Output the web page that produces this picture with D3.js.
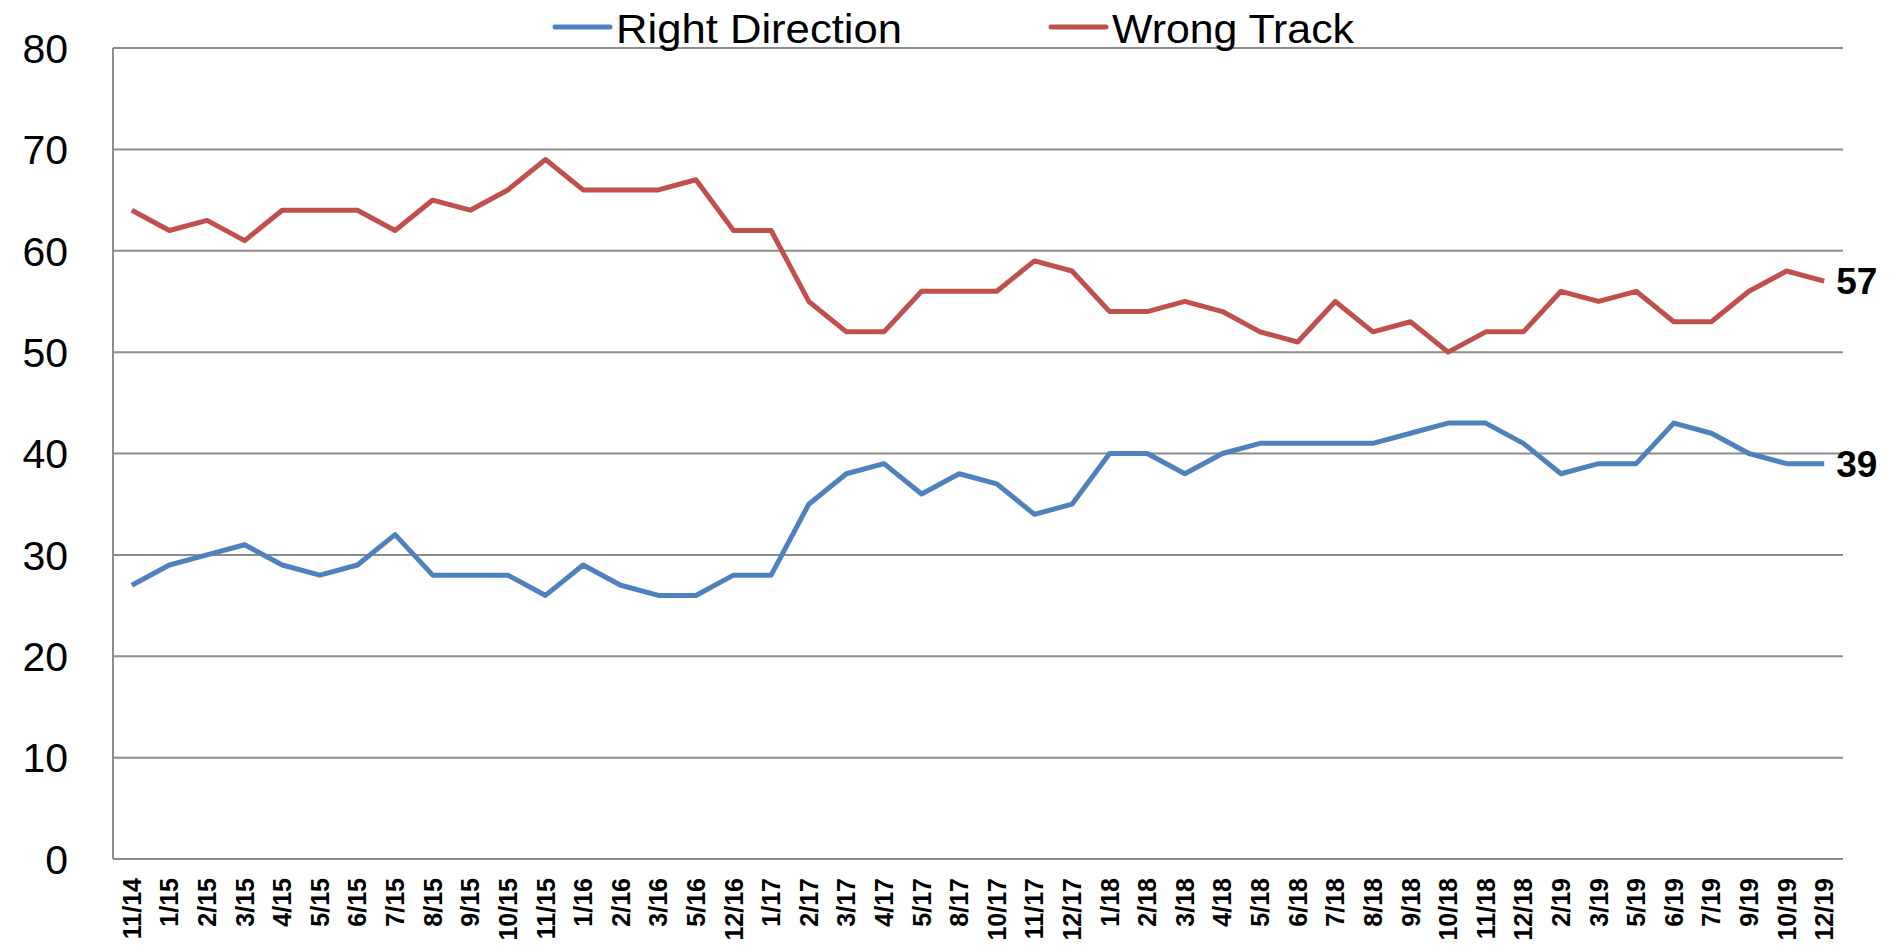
<!DOCTYPE html>
<html>
<head>
<meta charset="utf-8">
<script src="https://cdn.jsdelivr.net/npm/d3@7/dist/d3.min.js"></script>
<style>
  html, body { margin: 0; padding: 0; background: #fff; }
  svg { display: block; }
  .grid line { stroke: #8c8c8c; stroke-width: 2; }
  .ylab { font-family: "Liberation Sans", Arial, sans-serif; font-size: 41px; fill: #000; }
  .xlab { font-family: "Liberation Sans", Arial, sans-serif; font-size: 25px; font-weight: bold; fill: #000; }
  .legend text { font-family: "Liberation Sans", Arial, sans-serif; font-size: 41px; fill: #000; }
  .endlab { font-family: "Liberation Sans", Arial, sans-serif; font-size: 37px; font-weight: bold; fill: #000; }
</style>
</head>
<body>
<div id="chart"></div>
<script>
const width = 1895;
const height = 945;
const margin = {top: 48, right: 52, bottom: 86, left: 113};

const months = ["11/14","1/15","2/15","3/15","4/15","5/15","6/15","7/15","8/15","9/15","10/15","11/15",
  "1/16","2/16","3/16","5/16","12/16","1/17","2/17","3/17","4/17","5/17","8/17","10/17","11/17","12/17",
  "1/18","2/18","3/18","4/18","5/18","6/18","7/18","8/18","9/18","10/18","11/18","12/18",
  "2/19","3/19","5/19","6/19","7/19","9/19","10/19","12/19"];

const rightDirection = [27,29,30,31,29,28,29,32,28,28,28,26,
  29,27,26,26,28,28,35,38,39,36,38,37,34,35,
  40,40,38,40,41,41,41,41,42,43,43,41,
  38,39,39,43,42,40,39,39];

const wrongTrack = [64,62,63,61,64,64,64,62,65,64,66,69,
  66,66,66,67,62,62,55,52,52,56,56,56,59,58,
  54,54,55,54,52,51,55,52,53,50,52,52,
  56,55,56,53,53,56,58,57];

const yTicks = [0,10,20,30,40,50,60,70,80];

const series = [
  {name: "Right Direction", values: rightDirection, color: "#4F81BD", legendX: 555, textLen: 286},
  {name: "Wrong Track", values: wrongTrack, color: "#C0504D", legendX: 1051, textLen: 242}
];

const svg = d3.select("#chart").append("svg")
    .attr("width", width)
    .attr("height", height);

const x = d3.scalePoint()
    .domain(months)
    .range([margin.left, width - margin.right])
    .padding(0.5);

const y = d3.scaleLinear()
    .domain([0, 80])
    .range([height - margin.bottom, margin.top]);

// gridlines
const grid = svg.append("g").attr("class", "grid");
grid.selectAll("line.h").data(yTicks)
    .join("line")
    .attr("class", "h")
    .attr("x1", margin.left)
    .attr("x2", width - margin.right)
    .attr("y1", d => y(d))
    .attr("y2", d => y(d));
grid.append("line")
    .attr("x1", margin.left).attr("x2", margin.left)
    .attr("y1", y(80)).attr("y2", y(0));

// y labels
svg.append("g").selectAll("text").data(yTicks)
    .join("text")
    .attr("class", "ylab")
    .attr("x", 68)
    .attr("y", d => y(d))
    .attr("dy", "0.36em")
    .attr("text-anchor", "end")
    .text(d => d);

// x labels
svg.append("g").selectAll("text").data(months)
    .join("text")
    .attr("class", "xlab")
    .attr("text-anchor", "end")
    .attr("transform", d => `translate(${x(d)},878) rotate(-90)`)
    .attr("dy", "0.36em")
    .text(d => d);

// lines
const line = d3.line()
    .x((d, i) => x(months[i]))
    .y(d => y(d));

svg.append("g").selectAll("path").data(series)
    .join("path")
    .attr("fill", "none")
    .attr("stroke", d => d.color)
    .attr("stroke-width", 5)
    .attr("stroke-linejoin", "round")
    .attr("d", d => line(d.values));

// end labels
svg.append("g").selectAll("text").data(series)
    .join("text")
    .attr("class", "endlab")
    .attr("x", x(months[months.length - 1]) + 12)
    .attr("y", d => y(d.values[d.values.length - 1]))
    .attr("dy", "0.36em")
    .text(d => d.values[d.values.length - 1]);

// legend
const legend = svg.append("g").attr("class", "legend");
const items = legend.selectAll("g").data(series).join("g");
items.append("line")
    .attr("x1", d => d.legendX)
    .attr("x2", d => d.legendX + 55)
    .attr("y1", 27).attr("y2", 27)
    .attr("stroke", d => d.color)
    .attr("stroke-width", 5)
    .attr("stroke-linecap", "round");
items.append("text")
    .attr("x", d => d.legendX + 61)
    .attr("y", 43)
    .attr("textLength", d => d.textLen)
    .attr("lengthAdjust", "spacingAndGlyphs")
    .text(d => d.name);
</script>
</body>
</html>
